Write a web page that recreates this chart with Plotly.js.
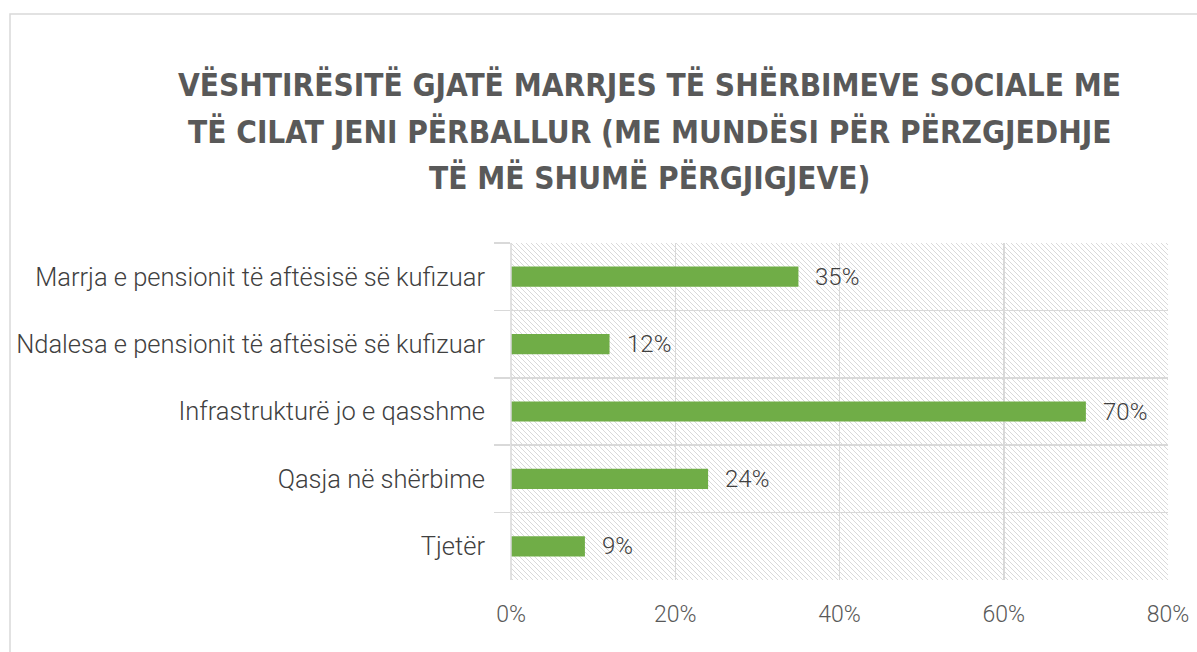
<!DOCTYPE html>
<html>
<head>
<meta charset="utf-8">
<script src="https://cdn.plot.ly/plotly-3.0.1.min.js"></script>
<style>html,body{margin:0;padding:0;background:#fff;}#chart{width:1197px;height:652px;}</style>
</head>
<body>
<div id="chart"></div>
<script>
const categories = [
  "Marrja e pensionit të aftësisë së kufizuar",
  "Ndalesa e pensionit të aftësisë së kufizuar",
  "Infrastrukturë jo e qasshme",
  "Qasja në shërbime",
  "Tjetër"
];
const values = [35, 12, 70, 24, 9];
const xTicks = [0, 20, 40, 60, 80];
const xTickLabels = ["0%", "20%", "40%", "60%", "80%"];
const titleLines = [
  "VËSHTIRËSITË GJATË MARRJES TË SHËRBIMEVE SOCIALE ME",
  "TË CILAT JENI PËRBALLUR (ME MUNDËSI PËR PËRZGJEDHJE",
  "TË MË SHUMË PËRGJIGJEVE)"
];

const W = 1197, H = 652;
const mL = 511, mR = 29, mT = 243, mB = 72;
const pw = W - mL - mR, ph = H - mT - mB;
const px2x = p => (p - mL) / pw;
const py2y = p => (H - mB - p) / ph;

// hatched background pattern
const svg = `<svg xmlns="http://www.w3.org/2000/svg" width="${pw}" height="${ph}">
<defs><pattern id="p" width="5" height="5" patternUnits="userSpaceOnUse">
<path d="M-1,-1 L6,6 M-1,4 L1,6 M4,-1 L6,1" stroke="#d9d9d9" stroke-width="1"/></pattern></defs>
<rect width="100%" height="100%" fill="#fff"/><rect width="100%" height="100%" fill="url(#p)"/></svg>`;
const bgSrc = "data:image/svg+xml;charset=utf-8," + encodeURIComponent(svg);

const bodyFont = "Roboto, 'Open Sans', sans-serif";
const titleFont = {family: "'DejaVu Sans Condensed', 'Liberation Sans Narrow', sans-serif", size: 31.3, color: "#595959", weight: 700};

const trace = {
  type: "bar",
  orientation: "h",
  x: values,
  y: categories,
  marker: {color: "#70AD47"},
  hoverinfo: "none"
};

const titleCenters = [84, 131, 178];
const annotations = values.map((v, i) => ({
  x: v, y: categories[i], xref: "x", yref: "y",
  text: v + "%", showarrow: false, xanchor: "left", xshift: 15,
  font: {family: bodyFont, size: 24, color: "#404040", weight: 300}
})).concat(titleLines.map((t, i) => ({
  text: t, xref: "paper", yref: "paper",
  x: px2x(649), y: py2y(titleCenters[i]), xanchor: "center", yanchor: "middle",
  showarrow: false, font: titleFont
})));

const layout = {
  width: W, height: H,
  margin: {l: mL, r: mR, t: mT, b: mB, pad: 0},
  paper_bgcolor: "#ffffff",
  plot_bgcolor: "rgba(0,0,0,0)",
  showlegend: false,
  bargap: 0.7,
  xaxis: {
    range: [0, 80],
    tickvals: xTicks,
    ticktext: xTickLabels,
    showgrid: true, gridcolor: "#d9d9d9", gridwidth: 1.5,
    zeroline: false, showline: false,
    ticks: "", ticklabelstandoff: 18,
    tickfont: {family: bodyFont, size: 23, color: "#595959", weight: 300},
    fixedrange: true
  },
  yaxis: {
    autorange: "reversed",
    type: "category",
    tickson: "boundaries",
    ticks: "outside", ticklen: 16, tickcolor: "#d9d9d9", tickwidth: 1.5,
    showgrid: true, gridcolor: "#d9d9d9", gridwidth: 1.5,
    showline: false, zeroline: false,
    ticklabelstandoff: 25,
    tickfont: {family: bodyFont, size: 25.5, color: "#404040", weight: 300},
    fixedrange: true
  },
  annotations: annotations,
  images: [{
    source: bgSrc, xref: "paper", yref: "paper",
    x: 0, y: 1, sizex: 1, sizey: 1, xanchor: "left", yanchor: "top",
    sizing: "stretch", layer: "below"
  }],
  shapes: [
    {type: "line", xref: "paper", yref: "paper", x0: 0, x1: 0, y0: 0, y1: 1,
     line: {color: "#d9d9d9", width: 1.5}},
    {type: "rect", xref: "paper", yref: "paper",
     x0: px2x(10), x1: px2x(W + 20),
     y0: py2y(H + 20), y1: py2y(14),
     line: {color: "#d9d9d9", width: 1.5}, fillcolor: "rgba(0,0,0,0)", layer: "below"}
  ]
};

Plotly.newPlot("chart", [trace], layout, {displayModeBar: false, staticPlot: true});
</script>
</body>
</html>
